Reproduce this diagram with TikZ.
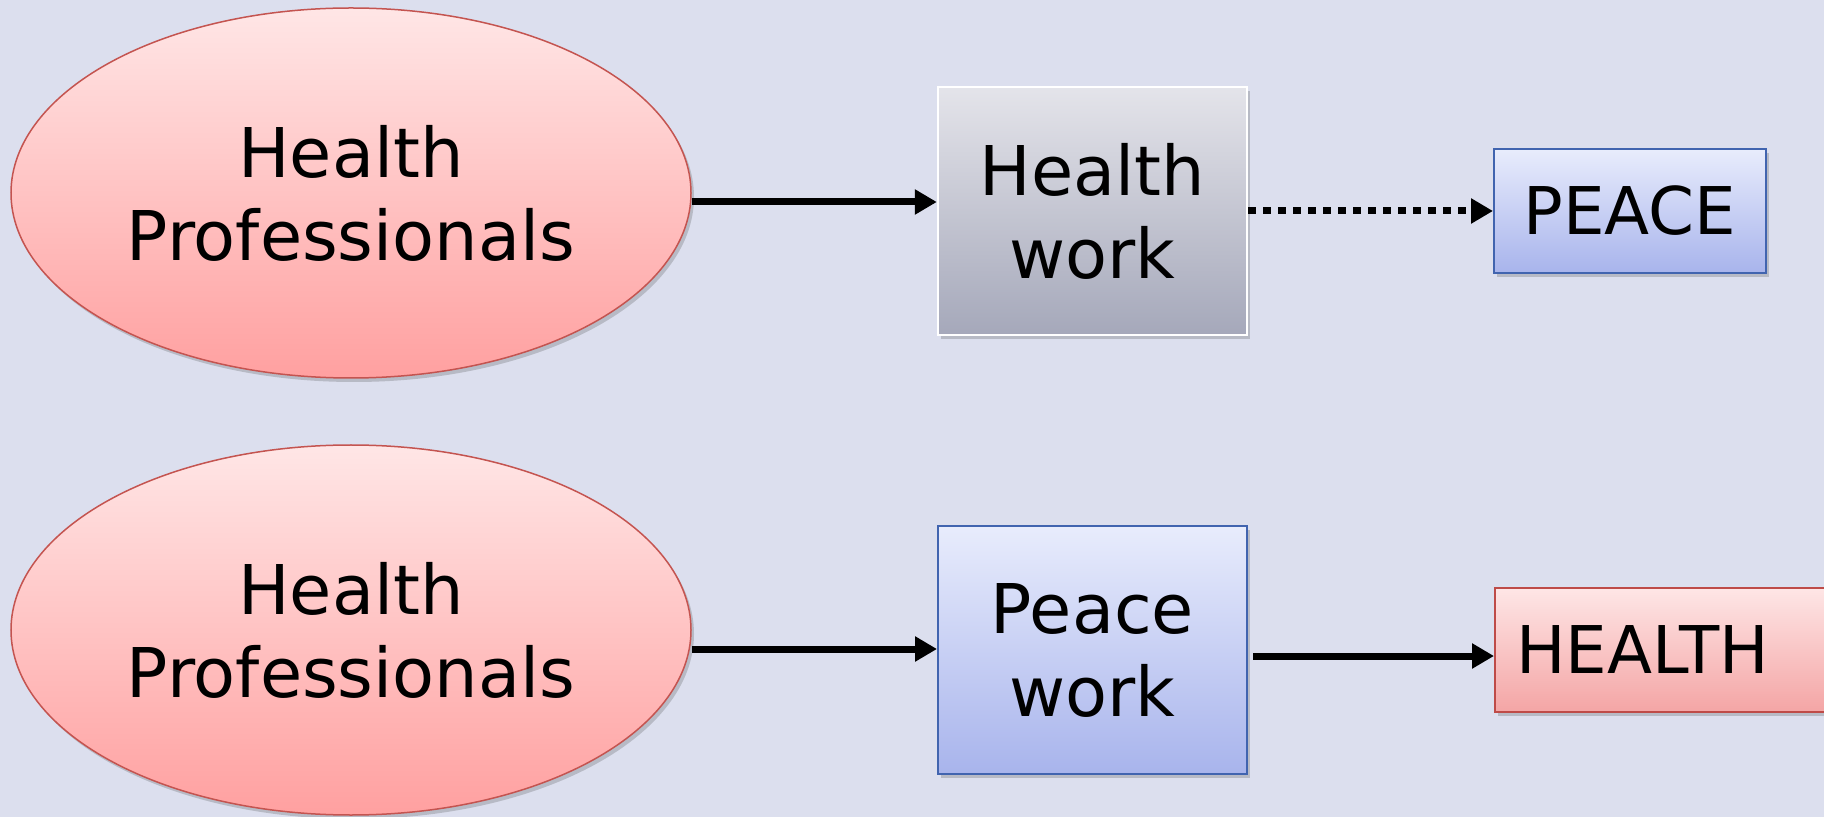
\documentclass[tikz,border=0pt]{standalone}
\usepackage{fontspec}
\setmainfont{DejaVu Sans}
\usetikzlibrary{shapes.geometric,arrows.meta,shadows}
\definecolor{bgcol}{RGB}{220,223,238}
\definecolor{ovaltop}{RGB}{255,230,230}
\definecolor{ovalbot}{RGB}{255,160,160}
\definecolor{ovalline}{RGB}{196,84,80}
\definecolor{graytop}{RGB}{228,228,234}
\definecolor{graybot}{RGB}{165,168,186}
\definecolor{bluetop}{RGB}{232,236,252}
\definecolor{bluebot}{RGB}{168,180,236}
\definecolor{blueline}{RGB}{65,100,175}
\definecolor{redtop}{RGB}{254,230,230}
\definecolor{redbot}{RGB}{244,165,165}
\definecolor{redline}{RGB}{190,75,72}
\begin{document}
\begin{tikzpicture}[x=0.5pt,y=-0.5pt,
  bigtext/.style={font=\fontsize{34.3}{41.5}\selectfont, align=center},
  midtext/.style={font=\fontsize{32.9}{40}\selectfont},
  shad/.style={drop shadow={shadow xshift=1.5pt, shadow yshift=-2pt, opacity=0.25, fill=black!70}},
  oval/.style={ellipse, draw=ovalline, line width=0.75pt, top color=ovaltop, bottom color=ovalbot,
    minimum width=340pt, minimum height=185pt, inner sep=0pt, shad, bigtext},
  graybox/.style={rectangle, draw=white, line width=1.2pt, top color=graytop, bottom color=graybot,
    minimum width=154.5pt, minimum height=124pt, inner sep=0pt, shad, bigtext},
  bluebox/.style={rectangle, draw=blueline, line width=1pt, top color=bluetop, bottom color=bluebot,
    inner sep=0pt, shad},
  redbox/.style={rectangle, draw=redline, line width=1pt, top color=redtop, bottom color=redbot,
    inner sep=0pt, shad},
  solidarrow/.style={line width=3.5pt, -{Triangle[length=11pt,width=12pt]}},
  dotarrow/.style={line width=3.5pt, dash pattern=on 4pt off 3.5pt, -{Triangle[length=11pt,width=12pt]}}
]
\fill[bgcol] (0,0) rectangle (1824,817);
\useasboundingbox (0,0) rectangle (1824,817);

\node[oval] (e1) at (351,193) {Health\\Professionals};
\node[graybox] (hw) at (1092.5,211) {Health\\work};
\node[bluebox, midtext, minimum width=136pt, minimum height=62pt] (peace) at (1630,211) {PEACE};

\node[oval] (e2) at (351,630) {Health\\Professionals};
\node[bluebox, bigtext, minimum width=154.5pt, minimum height=124pt] (pw) at (1092.5,650) {Peace\\work};
\node[redbox, midtext, anchor=west, minimum height=62pt, inner xsep=10.5pt, text width=162pt, align=left] (health) at (1494,650) {HEALTH};

\draw[solidarrow] ([yshift=-4.5pt]e1.east) -- ([yshift=4.5pt]hw.west);
\draw[dotarrow] (hw.east) -- (peace.west);
\draw[solidarrow] ([yshift=-9.5pt]e2.east) -- ([yshift=0.5pt]pw.west);
\draw[solidarrow, shorten <=2.5pt] ([yshift=-3pt]pw.east) -- ([yshift=-3pt]health.west);
\end{tikzpicture}
\end{document}
